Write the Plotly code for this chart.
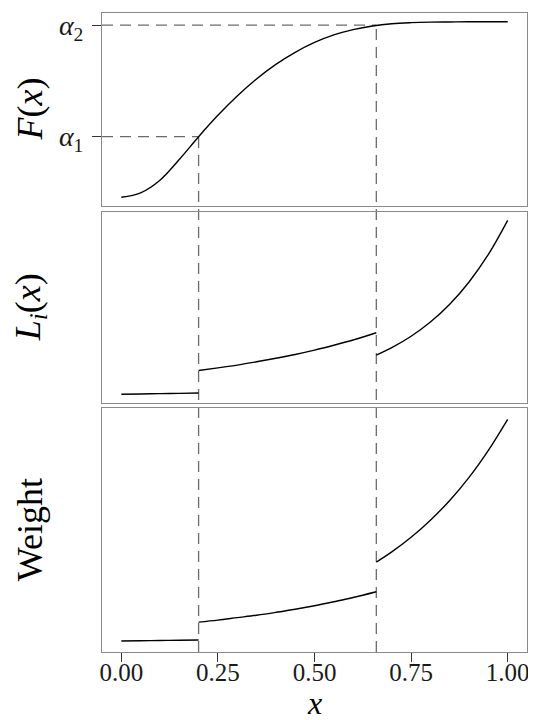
import plotly.graph_objects as go

# ---- data ----
x_F = [0.00, 0.05, 0.10, 0.15, 0.20, 0.25, 0.30, 0.35, 0.40, 0.45, 0.50,
       0.55, 0.60, 0.65, 0.70, 0.75, 0.80, 0.85, 0.90, 0.95, 1.00]
F_vals = [0.000, 0.025, 0.097, 0.215, 0.345, 0.467, 0.577, 0.674, 0.757, 0.826, 0.882,
          0.925, 0.955, 0.976, 0.989, 0.995, 0.998, 0.999, 1.000, 1.000, 1.000]

alpha_vals = [0.345, 0.981]
alpha_labels = ["<i>α</i><sub>1</sub>", "<i>α</i><sub>2</sub>"]
cut_points = [0.20, 0.66]

seg1_x = [0.00, 0.05, 0.10, 0.15, 0.20]
seg2_x = [0.20, 0.25, 0.30, 0.35, 0.40, 0.45, 0.50, 0.55, 0.60, 0.66]
seg3_x = [0.66, 0.70, 0.75, 0.80, 0.85, 0.90, 0.95, 1.00]

L_seg1 = [0.000, 0.002, 0.004, 0.005, 0.007]
L_seg2 = [0.137, 0.152, 0.168, 0.187, 0.207, 0.229, 0.254, 0.282, 0.312, 0.354]
L_seg3 = [0.225, 0.268, 0.334, 0.416, 0.518, 0.646, 0.804, 1.000]

W_seg1 = [0.000, 0.001, 0.002, 0.003, 0.0045]
W_seg2 = [0.085, 0.094, 0.105, 0.116, 0.129, 0.143, 0.159, 0.177, 0.196, 0.222]
W_seg3 = [0.356, 0.402, 0.468, 0.545, 0.634, 0.738, 0.860, 1.000]

x_ticks = [0.00, 0.25, 0.50, 0.75, 1.00]
x_ticktext = ["0.00", "0.25", "0.50", "0.75", "1.00"]

# ---- style ----
FONT = "Liberation Serif"
LINE = dict(color="black", width=1.4)
DASH = dict(color="#6b6b6b", width=1.3, dash="11px,7px")
BORDER = "#8a8a8a"
x_range = [-0.05, 1.05]
y_range = [-0.05, 1.05]
dom1 = [0.698, 1.0]
dom2 = [0.3897, 0.689]
dom3 = [0.0, 0.3814]


def joined(xs_list, ys_list):
    xx, yy = [], []
    for i, (xs, ys) in enumerate(zip(xs_list, ys_list)):
        if i:
            xx.append(None)
            yy.append(None)
        xx += xs
        yy += ys
    return xx, yy


fig = go.Figure()
fig.add_trace(go.Scatter(x=x_F, y=F_vals, mode="lines", line=dict(shape="spline", **LINE),
                         xaxis="x", yaxis="y", showlegend=False))
lx, ly = joined([seg1_x, seg2_x, seg3_x], [L_seg1, L_seg2, L_seg3])
fig.add_trace(go.Scatter(x=lx, y=ly, mode="lines", line=dict(shape="spline", **LINE),
                         connectgaps=False, xaxis="x2", yaxis="y2", showlegend=False))
wx, wy = joined([seg1_x, seg2_x, seg3_x], [W_seg1, W_seg2, W_seg3])
fig.add_trace(go.Scatter(x=wx, y=wy, mode="lines", line=dict(shape="spline", **LINE),
                         connectgaps=False, xaxis="x3", yaxis="y3", showlegend=False))

# dashed guides
for a, c in zip(alpha_vals, cut_points):
    fig.add_shape(type="line", xref="x", yref="y", x0=x_range[0], x1=c, y0=a, y1=a,
                  line=DASH, layer="below")
    y_top = dom1[0] + (a - y_range[0]) / (y_range[1] - y_range[0]) * (dom1[1] - dom1[0])
    fig.add_shape(type="line", xref="x", yref="paper", x0=c, x1=c, y0=dom3[0], y1=y_top,
                  line=DASH, layer="below")

axis_common = dict(range=x_range, showline=True, mirror=True, linecolor=BORDER, linewidth=1,
                   showgrid=False, zeroline=False, fixedrange=True)
yaxis_common = dict(range=y_range, showline=True, mirror=True, linecolor=BORDER, linewidth=1,
                    showgrid=False, zeroline=False, fixedrange=True)

# page body has an 8px margin, so the figure is 8px smaller on each axis
fig.update_layout(
    width=528, height=712,
    margin=dict(l=94, r=9, t=5, b=68, autoexpand=False),
    paper_bgcolor="white", plot_bgcolor="white",
    font=dict(family=FONT, color="black", size=25),
    xaxis=dict(domain=[0, 1], anchor="y", showticklabels=False, ticks="", **axis_common),
    xaxis2=dict(domain=[0, 1], anchor="y2", showticklabels=False, ticks="", **axis_common),
    xaxis3=dict(domain=[0, 1], anchor="y3", tickvals=x_ticks, ticktext=x_ticktext,
                ticks="outside", ticklen=9, tickwidth=1.3, tickcolor="#333333",
                ticklabelstandoff=-11,
                tickfont=dict(size=25, family=FONT, color="#1a1a1a"), **axis_common),
    yaxis=dict(domain=dom1, anchor="x", tickvals=alpha_vals, ticktext=alpha_labels,
               ticks="outside", ticklen=9, tickwidth=1.3, tickcolor="#333333",
               ticklabelstandoff=3,
               tickfont=dict(size=28, family=FONT, color="#1a1a1a"), **yaxis_common),
    yaxis2=dict(domain=dom2, anchor="x2", showticklabels=False, ticks="", **yaxis_common),
    yaxis3=dict(domain=dom3, anchor="x3", showticklabels=False, ticks="", **yaxis_common),
)

titles = [("<i>F</i>(<i>x</i>)", dom1), ("<i>L<sub>i</sub></i>(<i>x</i>)", dom2), ("Weight", dom3)]
for txt, d in titles:
    fig.add_annotation(text=txt, xref="paper", yref="paper", x=0, y=(d[0] + d[1]) / 2,
                       xshift=-72, xanchor="center", yanchor="middle", textangle=-90,
                       showarrow=False, font=dict(size=36, family=FONT, color="black"))
fig.add_annotation(text="<i>x</i>", xref="paper", yref="paper", x=0.5, y=0, yshift=-51,
                   xanchor="center", yanchor="middle", showarrow=False,
                   font=dict(size=32, family=FONT, color="black"))

fig.write_html("out.html")
